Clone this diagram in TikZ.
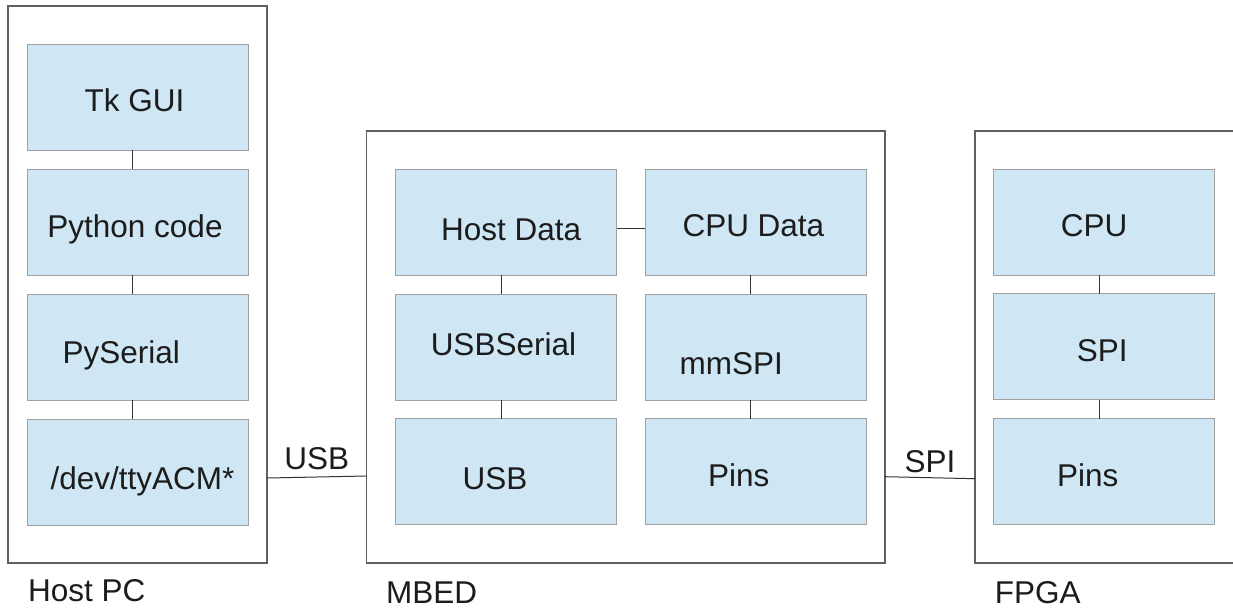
\documentclass[tikz,border=0pt]{standalone}
\usepackage{fontspec}
\setmainfont{Liberation Sans}
\definecolor{boxfill}{HTML}{CFE6F4}
\definecolor{boxline}{HTML}{A0A0A0}
\definecolor{outline}{HTML}{606060}
\definecolor{wire}{HTML}{333333}
\definecolor{ink}{HTML}{1C1C1C}
\begin{document}
\begin{tikzpicture}[x=1pt,y=-1pt,
  outerbox/.style={draw=outline,line width=1.3pt,fill=white,inner sep=0,outer sep=0,rectangle},
  inbox/.style={draw=boxline,line width=1pt,fill=boxfill,inner sep=0,outer sep=0,rectangle,minimum width=221pt,minimum height=106pt},
  wireline/.style={draw=wire,line width=1pt},
  txt/.style={font=\fontsize{31.5}{36}\selectfont,text=ink,inner sep=0,anchor=base}]
\clip (0,0) rectangle (1233,613);
\fill[white] (0,0) rectangle (1233,613);
% outer boxes
\node[outerbox,minimum width=259pt,minimum height=557pt] (host) at (137.5,284.5) {};
\node[outerbox,minimum width=518.3pt,minimum height=432pt] (mbed) at (625.85,347) {};
\node[outerbox,minimum width=300pt,minimum height=432pt] (fpga) at (1125,347) {};
% host column
\node[inbox] (tk) at (137.5,97) {};
\node[inbox] (py) at (137.5,222) {};
\node[inbox] (pyser) at (137.5,347) {};
\node[inbox] (tty) at (137.5,472) {};
% mbed
\node[inbox] (hd) at (506,222) {};
\node[inbox] (usbser) at (506,347) {};
\node[inbox] (usb) at (506,471.5) {};
\node[inbox] (cd) at (755.5,222) {};
\node[inbox] (mmspi) at (755.5,347) {};
\node[inbox] (pins) at (755.5,471.5) {};
% fpga
\node[inbox] (cpu) at (1104.4,222) {};
\node[inbox] (spi) at (1104.4,346.5) {};
\node[inbox] (fpins) at (1104.4,471.5) {};
% vertical connectors
\foreach \a/\b in {tk/py,py/pyser,pyser/tty,hd/usbser,usbser/usb,cd/mmspi,mmspi/pins,cpu/spi,spi/fpins}
  \draw[wireline] ([xshift=-4.6pt]\a.south) -- ([xshift=-4.6pt]\b.north);
\draw[wireline] ([yshift=-6.5pt]hd.east) -- ([yshift=-6.5pt]cd.west);
% links between units
\draw[wireline] ([yshift=-193.5pt]host.east) -- ([yshift=-129pt]mbed.west);
\draw[wireline] ([yshift=-129.7pt]mbed.east) -- ([yshift=-131.7pt]fpga.west);
% texts
\node[txt] (ttk) at (134.5,111.7) {Tk GUI};
\node[txt] (tpy) at (135,237.7) {Python code};
\node[txt] (tpyser) at (121.2,363.3) {PySerial};
\node[txt] (ttty) at (142.5,489.3) {/dev/ttyACM*};
\node[txt] (thost) at (86.7,601.7) {Host PC};
\node[txt] (thd) at (511.2,240) {Host Data};
\node[txt] (tcd) at (753.4,236.6) {CPU Data};
\node[txt] (tusbser) at (503.4,355.6) {USBSerial};
\node[txt] (tmmspi) at (731.3,374) {mmSPI};
\node[txt] (tusb) at (495,489.3) {USB};
\node[txt] (tpins) at (738.8,486) {Pins};
\node[txt] (lusb) at (316.7,469.3) {USB};
\node[txt] (lspi) at (929.9,472) {SPI};
\node[txt] (tmbed) at (431.7,603.3) {MBED};
\node[txt] (tcpu) at (1094.2,236.7) {CPU};
\node[txt] (tspi) at (1102.3,361.7) {SPI};
\node[txt] (tfpins) at (1087.7,486.7) {Pins};
\node[txt] (tfpga) at (1037.8,603.3) {FPGA};
\end{tikzpicture}
\end{document}
